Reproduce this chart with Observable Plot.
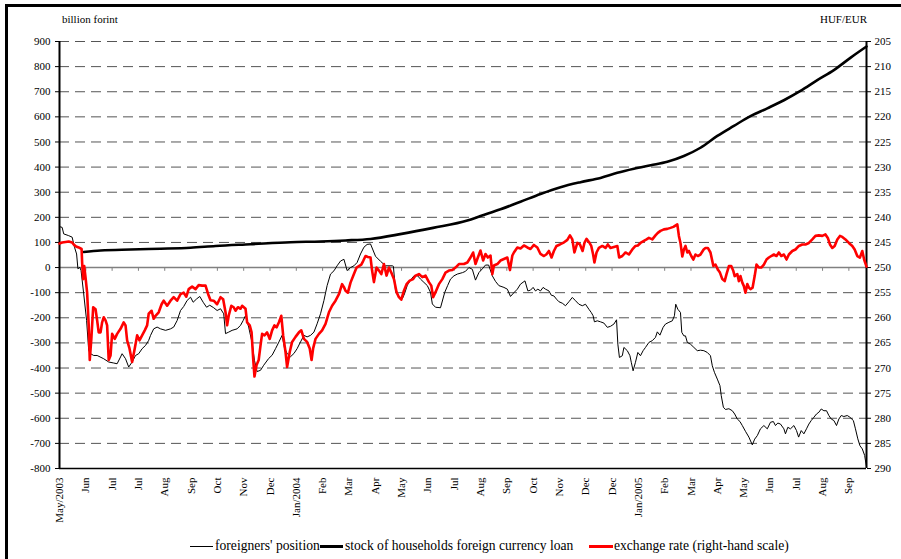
<!DOCTYPE html>
<html>
<head>
<meta charset="utf-8">
<script src="https://cdn.jsdelivr.net/npm/d3@7"></script>
<script src="https://cdn.jsdelivr.net/npm/@observablehq/plot@0.6"></script>
<style>
  body { margin: 0; background: #fff; font-family: "Liberation Serif", "Times New Roman", serif; }
  #wrap { position: relative; width: 901px; height: 559px; overflow: hidden; background: #fff; }
  #frame { position: absolute; left: 5px; top: 4px; width: 1000px; height: 1000px; border-left: 3px solid #000; border-top: 3px solid #000; box-sizing: border-box; }
  #chart { position: absolute; left: 0; top: 0; }
  .lab { position: absolute; font-size: 11px; color: #000; white-space: nowrap; }
  .lg { position: absolute; top: 538px; font-size: 13.6px; line-height: 16px; white-space: nowrap; color: #000; }
  .sw { position: absolute; width: 23px; }
</style>
</head>
<body>
<div id="wrap">
  <div id="frame"></div>
  <div id="chart"></div>
  <div class="lab" style="left:62px; top:13px;">billion forint</div>
  <div class="lab" style="right:34px; top:13px;">HUF/EUR</div>
  <div class="sw" style="left:190px; top:546px; border-top:1px solid #000"></div>
  <div class="lg" style="left:215px;">foreigners' position</div>
  <div class="sw" style="left:320px; top:545px; border-top:3px solid #000"></div>
  <div class="lg" style="left:345px;">stock of households foreign currency loan</div>
  <div class="sw" style="left:589px; top:545px; width:24px; border-top:3px solid #ff0000"></div>
  <div class="lg" style="left:614px;">exchange rate (right-hand scale)</div>
</div>
<script>
// x positions are in units of category-axis ticks (tick k carries tickLabels[k])
const tickLabels = ["May/2003","Jun","Jul","Jul","Aug","Sep","Oct","Nov","Dec","Jan/2004","Feb","Mar","Apr","May","Jun","Jul","Aug","Sep","Oct","Nov","Dec","Dec","Jan/2005","Feb","Mar","Apr","May","Jun","Jul","Aug","Sep"];
const leftTicks = [-800,-700,-600,-500,-400,-300,-200,-100,0,100,200,300,400,500,600,700,800,900];
const hufTicks = [205,210,215,220,225,230,235,240,245,250,255,260,265,270,275,280,285,290];
const xEnd = 30.67;

// foreigners' position, billion forint
const foreigners = [[0,163],[0.10,160],[0.16,134],[0.35,127],[0.48,121],[0.57,81],[0.65,54],[0.70,-5],[0.77,1],[0.82,-12],[0.92,-105],[1.03,-211],[1.11,-330],[1.18,-343],[1.30,-350],[1.43,-350],[1.68,-363],[1.87,-376],[2.06,-380],[2.19,-383],[2.32,-356],[2.38,-343],[2.51,-363],[2.63,-396],[2.76,-376],[2.89,-350],[3.01,-343],[3.14,-323],[3.27,-310],[3.39,-290],[3.46,-270],[3.58,-244],[3.71,-237],[3.84,-244],[4.03,-250],[4.22,-244],[4.34,-237],[4.47,-211],[4.60,-171],[4.72,-155],[4.85,-131],[4.98,-118],[5.08,-138],[5.21,-125],[5.33,-115],[5.46,-138],[5.59,-158],[5.71,-150],[5.86,-160],[5.99,-171],[6.12,-164],[6.24,-184],[6.31,-263],[6.43,-257],[6.56,-250],[6.75,-244],[6.88,-230],[6.98,-211],[7.07,-191],[7.19,-237],[7.32,-300],[7.41,-370],[7.51,-414],[7.64,-409],[7.76,-389],[7.95,-362],[8.08,-349],[8.21,-323],[8.34,-296],[8.46,-270],[8.55,-320],[8.65,-342],[8.78,-355],[8.91,-342],[9.03,-323],[9.16,-296],[9.29,-270],[9.41,-276],[9.54,-270],[9.67,-257],[9.79,-224],[9.92,-184],[10.05,-131],[10.17,-72],[10.30,-26],[10.43,-13],[10.55,7],[10.68,26],[10.81,33],[10.93,-12],[11.06,0],[11.19,7],[11.31,20],[11.44,54],[11.57,81],[11.69,92],[11.82,94],[12.01,45],[12.20,25],[12.39,7],[12.65,7],[12.69,5],[12.77,-92],[12.90,-120],[13.03,-124],[13.11,-105],[13.22,-70],[13.34,-50],[13.47,-33],[13.61,-33],[13.72,-46],[13.85,-59],[13.98,-72],[14.10,-99],[14.17,-145],[14.29,-158],[14.48,-160],[14.64,-99],[14.75,-72],[14.86,-46],[14.99,-33],[15.12,-26],[15.32,-20],[15.43,-15],[15.56,0],[15.69,-7],[15.81,-50],[15.94,-20],[16.07,-5],[16.19,10],[16.31,10],[16.45,-33],[16.57,-55],[16.70,-72],[16.89,-79],[17.02,-86],[17.14,-115],[17.27,-100],[17.40,-86],[17.52,-66],[17.69,-53],[17.80,-93],[17.90,-90],[18.00,-79],[18.09,-93],[18.18,-86],[18.28,-93],[18.38,-79],[18.47,-86],[18.60,-93],[18.69,-110],[18.79,-113],[18.89,-126],[18.98,-136],[19.11,-142],[19.23,-152],[19.36,-136],[19.49,-119],[19.61,-132],[19.74,-146],[19.87,-152],[19.99,-146],[20.12,-166],[20.21,-179],[20.28,-192],[20.33,-216],[20.44,-212],[20.56,-216],[20.69,-221],[20.82,-238],[20.94,-234],[21.07,-225],[21.17,-208],[21.22,-305],[21.28,-358],[21.39,-351],[21.45,-318],[21.58,-331],[21.68,-351],[21.73,-377],[21.80,-411],[21.89,-377],[21.98,-338],[22.08,-351],[22.18,-331],[22.27,-318],[22.40,-298],[22.53,-291],[22.65,-278],[22.72,-256],[22.82,-269],[22.94,-238],[23.03,-225],[23.16,-218],[23.29,-212],[23.37,-192],[23.42,-146],[23.50,-166],[23.60,-179],[23.65,-258],[23.73,-272],[23.79,-272],[23.86,-298],[23.98,-305],[24.11,-318],[24.24,-331],[24.36,-329],[24.49,-331],[24.62,-338],[24.74,-351],[24.81,-391],[24.89,-417],[25.00,-444],[25.10,-470],[25.15,-510],[25.23,-556],[25.31,-565],[25.44,-562],[25.57,-570],[25.66,-583],[25.76,-603],[25.86,-613],[25.95,-629],[26.07,-652],[26.20,-675],[26.33,-706],[26.42,-683],[26.52,-669],[26.64,-642],[26.77,-629],[26.90,-642],[27.02,-616],[27.13,-613],[27.21,-629],[27.30,-619],[27.40,-623],[27.53,-642],[27.59,-662],[27.68,-636],[27.78,-642],[27.91,-629],[28.01,-649],[28.09,-675],[28.19,-649],[28.29,-662],[28.39,-642],[28.48,-623],[28.57,-609],[28.67,-596],[28.77,-583],[28.86,-576],[28.95,-563],[29.05,-570],[29.15,-570],[29.24,-589],[29.33,-603],[29.43,-609],[29.53,-629],[29.62,-603],[29.71,-589],[29.81,-593],[29.94,-589],[30.04,-596],[30.17,-609],[30.25,-642],[30.34,-682],[30.42,-709],[30.51,-722],[30.60,-748],[30.67,-795]];

// stock of households' foreign currency loans, billion forint
const loans = [[0.92,62],[1.56,68],[2.70,72],[3.84,75],[4.98,79],[5.93,86],[7.26,93],[8.78,101],[9.92,104],[10.87,108],[11.82,114],[13.00,134],[14.20,158],[15.50,187],[16.00,205],[16.76,232],[17.52,262],[18.28,293],[19.04,320],[19.80,340],[20.56,357],[21.20,377],[21.83,393],[22.47,407],[23.10,421],[23.73,444],[24.36,477],[25.00,524],[25.63,564],[26.26,603],[26.90,634],[27.53,666],[28.16,703],[28.80,746],[29.43,786],[30.07,836],[30.67,880]];

// exchange rate, HUF/EUR (right-hand scale)
const exchangeRate = [[0,245.2],[0.10,245.0],[0.23,244.9],[0.35,244.8],[0.48,245.0],[0.54,245.4],[0.63,245.8],[0.73,246.0],[0.84,246.3],[0.86,249.0],[0.90,252.3],[0.94,249.7],[0.99,252.0],[1.05,255.0],[1.11,261.5],[1.15,268.4],[1.21,264.2],[1.28,257.9],[1.37,258.3],[1.43,260.5],[1.49,262.9],[1.56,262.9],[1.62,260.9],[1.68,259.9],[1.75,260.5],[1.81,261.5],[1.87,268.4],[1.94,267.5],[2.00,263.2],[2.10,264.2],[2.19,263.2],[2.32,262.2],[2.44,260.9],[2.51,261.5],[2.57,264.5],[2.66,266.1],[2.76,268.8],[2.86,266.1],[2.95,263.5],[3.04,264.5],[3.14,263.5],[3.24,262.5],[3.33,261.5],[3.39,259.2],[3.50,258.6],[3.58,260.2],[3.65,259.6],[3.77,258.9],[3.88,257.3],[3.96,256.6],[4.09,257.6],[4.22,256.6],[4.34,255.9],[4.47,256.6],[4.60,255.3],[4.72,255.0],[4.82,255.8],[4.91,254.3],[5.04,253.8],[5.17,254.3],[5.29,253.5],[5.42,253.6],[5.55,253.6],[5.65,255.3],[5.74,256.5],[5.86,256.6],[5.99,257.3],[6.12,255.9],[6.22,256.3],[6.31,258.9],[6.37,261.5],[6.43,259.6],[6.53,257.6],[6.62,257.9],[6.69,258.6],[6.78,257.9],[6.88,258.2],[6.94,257.6],[7.07,258.2],[7.13,260.9],[7.23,261.5],[7.30,262.9],[7.36,268.1],[7.41,271.7],[7.49,269.4],[7.57,268.4],[7.64,265.5],[7.70,263.2],[7.79,263.5],[7.89,262.9],[7.99,264.2],[8.08,262.5],[8.17,261.5],[8.25,261.9],[8.34,260.9],[8.43,259.6],[8.50,263.5],[8.59,266.8],[8.65,269.8],[8.75,266.8],[8.84,264.8],[8.97,263.8],[9.10,262.9],[9.19,262.5],[9.29,264.2],[9.41,264.8],[9.51,266.1],[9.58,268.4],[9.64,266.1],[9.73,264.2],[9.86,263.2],[9.98,262.5],[10.11,261.2],[10.24,258.9],[10.36,257.6],[10.49,256.6],[10.62,255.3],[10.74,253.3],[10.81,253.9],[10.87,254.6],[10.96,255.0],[11.06,253.0],[11.19,251.3],[11.29,250.0],[11.38,249.7],[11.47,249.4],[11.54,248.7],[11.63,247.7],[11.72,247.9],[11.82,248.0],[11.88,250.6],[11.95,252.9],[12.05,250.0],[12.14,250.6],[12.23,251.3],[12.33,249.3],[12.43,251.6],[12.52,250.0],[12.61,251.0],[12.71,252.3],[12.81,254.9],[12.90,255.9],[12.99,256.4],[13.09,254.6],[13.19,253.3],[13.31,252.6],[13.44,252.3],[13.53,251.6],[13.66,251.3],[13.79,251.9],[13.91,251.6],[14.04,252.9],[14.13,253.6],[14.20,255.9],[14.29,254.9],[14.42,253.3],[14.55,252.3],[14.67,251.0],[14.80,250.6],[14.93,250.5],[15.05,250.0],[15.18,249.3],[15.37,249.3],[15.50,249.0],[15.62,248.0],[15.72,247.0],[15.81,249.3],[15.90,248.0],[16.00,246.6],[16.10,248.6],[16.19,247.3],[16.28,248.0],[16.38,247.6],[16.45,251.3],[16.51,249.6],[16.64,249.3],[16.76,248.6],[16.89,248.3],[17.02,248.0],[17.12,250.5],[17.21,247.6],[17.27,247.0],[17.40,246.0],[17.52,246.2],[17.65,245.6],[17.78,246.0],[17.90,246.3],[18.03,245.5],[18.16,246.0],[18.28,247.3],[18.41,247.7],[18.50,247.4],[18.60,246.7],[18.70,248.0],[18.79,246.7],[18.89,245.7],[19.02,245.4],[19.14,245.1],[19.30,244.5],[19.40,243.6],[19.49,244.4],[19.57,247.0],[19.68,245.1],[19.78,245.4],[19.88,246.7],[19.95,245.1],[20.03,244.3],[20.12,244.9],[20.21,245.7],[20.28,247.4],[20.33,249.0],[20.41,247.0],[20.50,246.1],[20.63,245.7],[20.75,246.1],[20.84,245.4],[20.94,246.1],[21.07,245.9],[21.20,245.7],[21.27,248.0],[21.39,247.7],[21.51,247.0],[21.64,247.4],[21.77,246.4],[21.89,245.7],[21.98,245.6],[22.08,245.1],[22.21,244.7],[22.31,244.4],[22.40,244.1],[22.53,244.4],[22.65,243.6],[22.74,243.1],[22.84,242.7],[22.97,242.4],[23.10,242.3],[23.22,242.1],[23.33,241.9],[23.39,241.7],[23.48,241.4],[23.54,243.7],[23.60,245.1],[23.67,247.8],[23.73,246.4],[23.79,245.7],[23.86,247.0],[23.92,246.7],[24.01,247.7],[24.09,248.4],[24.17,247.4],[24.26,247.7],[24.36,247.4],[24.48,246.4],[24.55,246.1],[24.64,246.1],[24.74,247.0],[24.85,249.7],[24.93,249.4],[25.02,250.4],[25.10,251.0],[25.19,252.3],[25.28,252.7],[25.35,251.3],[25.44,249.7],[25.53,249.7],[25.61,250.7],[25.66,251.7],[25.76,251.3],[25.82,252.7],[25.88,251.7],[25.95,253.0],[26.01,253.7],[26.07,255.0],[26.14,253.3],[26.20,254.0],[26.26,254.3],[26.34,254.0],[26.42,251.7],[26.49,249.4],[26.58,250.0],[26.67,250.0],[26.77,249.4],[26.87,248.4],[26.96,248.0],[27.05,247.7],[27.15,247.4],[27.25,247.7],[27.34,247.0],[27.43,247.7],[27.53,247.4],[27.63,248.4],[27.72,247.4],[27.85,246.7],[27.97,246.4],[28.10,245.7],[28.23,245.4],[28.35,245.4],[28.48,245.1],[28.61,244.4],[28.73,243.7],[28.86,243.6],[28.99,243.7],[29.11,243.4],[29.20,244.1],[29.28,245.4],[29.37,246.1],[29.46,245.7],[29.56,244.4],[29.66,243.7],[29.75,243.9],[29.87,244.4],[30.00,245.1],[30.13,245.7],[30.22,246.4],[30.32,247.7],[30.42,248.0],[30.51,246.7],[30.58,248.4],[30.67,249.8]];

// right-hand scale: 205..290 HUF/EUR spans the same height as 900..-800 billion forint
const hufToLeft = h => (250 - h) * 20;
const leftToHuf = v => 250 - v / 20;

const chart = Plot.plot({
  width: 901,
  height: 530,
  marginLeft: 59,
  marginRight: 35,
  marginTop: 41,
  marginBottom: 62,
  style: { fontFamily: "'Liberation Serif', 'Times New Roman', serif", fontSize: "11px", background: "transparent", color: "#000", overflow: "visible" },
  x: { domain: [0, xEnd] },
  y: { domain: [-800, 900] },
  marks: [
    Plot.ruleY(leftTicks.filter(d => d !== 0 && d !== -800), { stroke: "#555", strokeWidth: 1, strokeDasharray: "10,6" }),
    Plot.ruleY([0], { stroke: "#808080", strokeWidth: 1.5 }),
    Plot.ruleX(d3.range(1, tickLabels.length), { y1: 0, y2: -15, stroke: "#808080", strokeWidth: 1 }),
    Plot.ruleY([-800], { stroke: "#000", strokeWidth: 1.5 }),
    Plot.ruleX([0], { stroke: "#000", strokeWidth: 2 }),
    Plot.ruleX([xEnd], { stroke: "#000", strokeWidth: 2 }),
    Plot.axisY({ ticks: leftTicks, tickSize: 4, tickPadding: 5, tickFormat: d => String(d), label: null }),
    Plot.axisY({ anchor: "right", ticks: hufTicks.map(hufToLeft), tickSize: 4, tickPadding: 4, tickFormat: v => String(Math.round(leftToHuf(v))), label: null }),
    Plot.axisX({ ticks: d3.range(0, tickLabels.length), tickSize: 0, tickPadding: 9, tickRotate: -90, tickFormat: i => tickLabels[i], label: null }),
    Plot.line(foreigners, { x: d => d[0], y: d => d[1], stroke: "#000", strokeWidth: 1 }),
    Plot.line(loans, { x: d => d[0], y: d => d[1], stroke: "#000", strokeWidth: 2.6, curve: "monotone-x" }),
    Plot.line(exchangeRate, { x: d => d[0], y: d => hufToLeft(d[1]), stroke: "#ff0000", strokeWidth: 2.6 })
  ]
});
document.getElementById("chart").appendChild(chart);
</script>
</body>
</html>
